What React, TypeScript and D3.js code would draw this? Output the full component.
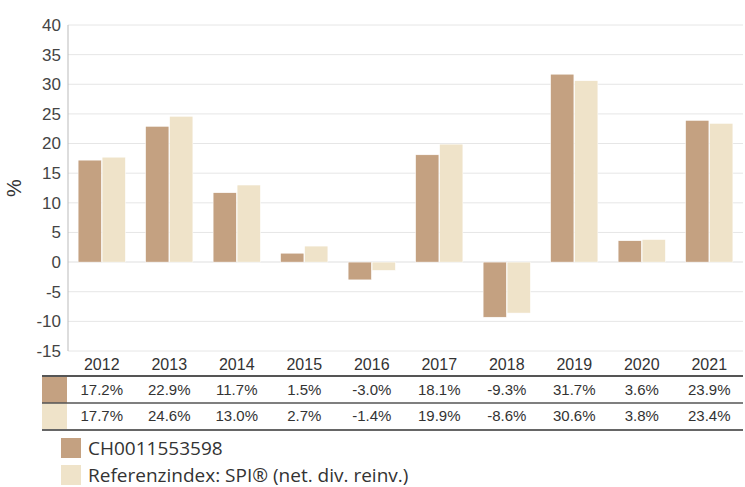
import React from 'react';
import * as d3 from 'd3';

const years = ['2012', '2013', '2014', '2015', '2016', '2017', '2018', '2019', '2020', '2021'];
const fundValues = [17.2, 22.9, 11.7, 1.5, -3.0, 18.1, -9.3, 31.7, 3.6, 23.9];
const indexValues = [17.7, 24.6, 13.0, 2.7, -1.4, 19.9, -8.6, 30.6, 3.8, 23.4];
const yTicks = [-15, -10, -5, 0, 5, 10, 15, 20, 25, 30, 35, 40];
const seriesNames = ['CH0011553598', 'Referenzindex: SPI® (net. div. reinv.)'];
const colors = ['#c4a181', '#efe3c9'];

const W = 745;
const H = 487;
const plot = { left: 68, right: 743, top: 25, bottom: 351 };

export default function App() {
  const x = d3.scaleBand().domain(years).range([plot.left, plot.right]).paddingInner(0.3).paddingOuter(0.15);
  const x0 = d3.scaleBand().domain(years).range([plot.left, plot.right]);
  const sub = d3.scaleBand().domain(['0', '1']).range([0, x.bandwidth()]).paddingInner(0.03);
  const y = d3.scaleLinear().domain([-15, 40]).range([plot.bottom, plot.top]);
  const series = [fundValues, indexValues];
  const rowTop = [377, 403];
  const rowH = 26;
  const axisFont = 'Liberation Sans, Arial, sans-serif';

  return (
    <svg width={W} height={H} style={{ position: 'absolute', left: 0, top: 0 }}>
      {yTicks.map((t) => (
        <g key={t}>
          <line x1={plot.left} x2={plot.right} y1={y(t)} y2={y(t)} stroke={t === 0 ? '#efefef' : '#e6e6e6'} strokeWidth={t === 0 ? 2 : 1} />
          <text x={plot.left - 7} y={y(t)} dy="0.35em" textAnchor="end" fontSize={17} fill="#444" fontFamily={axisFont}>
            {t}
          </text>
        </g>
      ))}
      <line x1={plot.left} x2={plot.left} y1={plot.top} y2={plot.bottom} stroke="#bbb" />
      <text transform={`translate(21,${y(12.5)}) rotate(-90)`} textAnchor="middle" fontSize={20} fill="#333" fontFamily={axisFont}>
        %
      </text>
      {series.map((vals, si) =>
        vals.map((v, i) => (
          <rect
            key={`${si}-${i}`}
            x={(x(years[i]) as number) + (sub(String(si)) as number)}
            y={y(Math.max(0, v))}
            width={sub.bandwidth()}
            height={Math.abs(y(v) - y(0))}
            fill={colors[si]}
            stroke="#fff"
            strokeWidth={0.5}
          />
        ))
      )}
      {years.map((yr) => (
        <text key={yr} x={(x0(yr) as number) + x0.bandwidth() / 2} y={364} dy="0.35em" textAnchor="middle" fontSize={16} fill="#333" fontFamily={axisFont}>
          {yr}
        </text>
      ))}
      {/* table */}
      {series.map((vals, si) => (
        <g key={si}>
          <rect x={42} y={rowTop[si]} width={25} height={rowH} fill={colors[si]} />
          {vals.map((v, i) => (
            <text
              key={i}
              x={(x0(years[i]) as number) + x0.bandwidth() / 2}
              y={rowTop[si] + rowH / 2}
              dy="0.35em"
              textAnchor="middle"
              fontSize={15}
              fill="#333"
              fontFamily={axisFont}
            >
              {v.toFixed(1)}%
            </text>
          ))}
        </g>
      ))}
      <line x1={42} x2={plot.right} y1={376} y2={376} stroke="#555" strokeWidth={2} />
      <line x1={42} x2={plot.right} y1={403} y2={403} stroke="#555" strokeWidth={1.5} />
      <line x1={42} x2={plot.right} y1={430} y2={430} stroke="#666" strokeWidth={2} />
      {/* legend */}
      {seriesNames.map((name, i) => (
        <g key={name}>
          <rect x={61} y={438 + i * 27} width={20} height={20} fill={colors[i]} />
          <text x={88} y={448 + i * 27} dy="0.35em" fontSize={19} fill="#333" fontFamily="Open Sans, Noto Sans, sans-serif">
            {name}
          </text>
        </g>
      ))}
    </svg>
  );
}
